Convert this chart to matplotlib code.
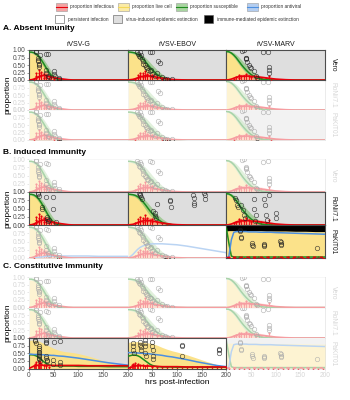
import matplotlib
matplotlib.use("Agg")
import matplotlib.pyplot as plt
from matplotlib.patches import Rectangle

plt.rcParams["font.family"] = ["Liberation Sans", "DejaVu Sans"]

# time grid (hrs post-infection) shared by all fitted curves
T = [0, 5, 10, 15, 20, 25, 30, 35, 40, 45, 50, 60, 70, 80, 90, 100, 120, 140, 160, 180, 200]

viruses = ["rVSV-G", "rVSV-EBOV", "rVSV-MARV"]
cell_lines = ["Vero", "RoNi/7.1", "PaKiT01"]
sections = ["A. Absent Imunity", "B. Induced Immunity", "C. Constitutive Immunity"]
x_ticks = [0, 50, 100, 150, 200]
y_ticks = [0, 0.25, 0.5, 0.75, 1.0]
y_ticklabels = ["0.00", "0.25", "0.50", "0.75", "1.00"]

# --- rVSV-G, no antiviral ---
g_yellow = [0.90, 0.90, 0.88, 0.83, 0.74, 0.62, 0.48, 0.34, 0.21, 0.10, 0.03, 0, 0, 0, 0, 0, 0, 0, 0, 0, 0]
g_green = [0.93, 0.93, 0.91, 0.86, 0.78, 0.67, 0.54, 0.40, 0.27, 0.16, 0.08, 0.01, 0, 0, 0, 0, 0, 0, 0, 0, 0]
g_green_lo = [0.91, 0.90, 0.86, 0.79, 0.69, 0.56, 0.42, 0.28, 0.16, 0.08, 0.03, 0, 0, 0, 0, 0, 0, 0, 0, 0, 0]
g_green_hi = [0.95, 0.95, 0.94, 0.91, 0.86, 0.78, 0.68, 0.56, 0.43, 0.31, 0.20, 0.07, 0.02, 0, 0, 0, 0, 0, 0, 0, 0]
g_red = [0, 0.01, 0.03, 0.07, 0.11, 0.14, 0.15, 0.14, 0.12, 0.10, 0.08, 0.05, 0.03, 0.01, 0, 0, 0, 0, 0, 0, 0]
g_red_hi = [0, 0.02, 0.07, 0.14, 0.21, 0.26, 0.28, 0.26, 0.22, 0.18, 0.14, 0.09, 0.05, 0.02, 0.01, 0, 0, 0, 0, 0, 0]
g_red_pt_t = [10, 15, 15, 15, 20, 20, 20, 25, 25, 30, 30, 35, 35, 40, 45, 50, 60]
g_red_pt_y = [0.04, 0.06, 0.14, 0.24, 0.10, 0.22, 0.32, 0.16, 0.28, 0.08, 0.20, 0.10, 0.17, 0.06, 0.10, 0.05, 0.03]

# --- rVSV-EBOV, no antiviral ---
e_yellow = [0.90, 0.90, 0.89, 0.87, 0.83, 0.77, 0.69, 0.60, 0.50, 0.40, 0.31, 0.16, 0.07, 0.02, 0, 0, 0, 0, 0, 0, 0]
e_green = [0.93, 0.93, 0.92, 0.90, 0.86, 0.80, 0.72, 0.63, 0.53, 0.43, 0.34, 0.18, 0.08, 0.03, 0.01, 0, 0, 0, 0, 0, 0]
e_green_lo = [0.91, 0.90, 0.88, 0.85, 0.79, 0.71, 0.61, 0.50, 0.39, 0.29, 0.21, 0.09, 0.03, 0.01, 0, 0, 0, 0, 0, 0, 0]
e_green_hi = [0.95, 0.95, 0.95, 0.94, 0.92, 0.88, 0.83, 0.76, 0.68, 0.59, 0.50, 0.33, 0.19, 0.09, 0.04, 0.02, 0, 0, 0, 0, 0]
e_red = [0, 0.01, 0.02, 0.04, 0.07, 0.10, 0.12, 0.14, 0.14, 0.13, 0.12, 0.09, 0.06, 0.04, 0.02, 0.01, 0, 0, 0, 0, 0]
e_red_hi = [0, 0.02, 0.05, 0.09, 0.14, 0.19, 0.22, 0.24, 0.24, 0.23, 0.21, 0.16, 0.11, 0.07, 0.04, 0.02, 0, 0, 0, 0, 0]
e_red_pt_t = [15, 20, 20, 25, 25, 30, 30, 35, 35, 40, 40, 45, 50, 50, 60, 70, 80]
e_red_pt_y = [0.05, 0.08, 0.18, 0.12, 0.25, 0.10, 0.22, 0.15, 0.30, 0.12, 0.20, 0.15, 0.10, 0.18, 0.08, 0.05, 0.02]

# --- rVSV-MARV, no antiviral ---
m_yellow = [0.92, 0.91, 0.87, 0.78, 0.66, 0.54, 0.43, 0.34, 0.26, 0.19, 0.13, 0.05, 0.02, 0, 0, 0, 0, 0, 0, 0, 0]
m_green = [0.95, 0.94, 0.90, 0.83, 0.74, 0.63, 0.52, 0.42, 0.33, 0.25, 0.18, 0.08, 0.03, 0.01, 0, 0, 0, 0, 0, 0, 0]
m_green_lo = [0.93, 0.91, 0.85, 0.76, 0.65, 0.53, 0.42, 0.32, 0.23, 0.16, 0.10, 0.03, 0.01, 0, 0, 0, 0, 0, 0, 0, 0]
m_green_hi = [0.97, 0.97, 0.95, 0.91, 0.85, 0.77, 0.68, 0.59, 0.50, 0.42, 0.34, 0.21, 0.11, 0.05, 0.02, 0, 0, 0, 0, 0, 0]
m_red = [0, 0.01, 0.03, 0.06, 0.09, 0.11, 0.12, 0.13, 0.13, 0.13, 0.12, 0.11, 0.09, 0.07, 0.05, 0.03, 0.01, 0, 0, 0, 0]
m_red_hi = [0, 0.02, 0.06, 0.11, 0.15, 0.18, 0.19, 0.20, 0.20, 0.20, 0.19, 0.17, 0.15, 0.12, 0.09, 0.06, 0.03, 0.01, 0, 0, 0]
m_red_pt_t = [15, 20, 25, 25, 30, 35, 40, 45, 50, 60, 70, 80, 87, 90]
m_red_pt_y = [0.05, 0.10, 0.08, 0.18, 0.15, 0.12, 0.20, 0.14, 0.10, 0.12, 0.08, 0.06, 0.15, 0.04]

# --- antiviral curves, faded induced PaKiT01 panels ---
bpg_blue = [0, 0, 0.01, 0.01, 0.02, 0.03, 0.04, 0.05, 0.05, 0.06, 0.06, 0.06, 0.06, 0.06, 0.06, 0.06, 0.06, 0.05, 0.05, 0.05, 0.05]
bpe_blue = [0, 0.04, 0.10, 0.18, 0.26, 0.32, 0.36, 0.39, 0.41, 0.42, 0.43, 0.43, 0.43, 0.42, 0.41, 0.40, 0.36, 0.31, 0.26, 0.21, 0.16]

# --- rVSV-MARV on PaKiT01, induced immunity ---
bp_yellow = [0.82, 0.83, 0.83, 0.83, 0.83, 0.83, 0.83, 0.83, 0.83, 0.83, 0.83, 0.83, 0.83, 0.82, 0.82, 0.82, 0.82, 0.81, 0.81, 0.80, 0.80]
bp_green = [0.90, 0.45, 0.06, 0.03, 0.03, 0.03, 0.03, 0.03, 0.03, 0.03, 0.03, 0.03, 0.03, 0.03, 0.03, 0.03, 0.03, 0.03, 0.03, 0.03, 0.03]
bp_blue = [0, 0.05, 0.55, 0.78, 0.80, 0.80, 0.80, 0.80, 0.80, 0.79, 0.79, 0.79, 0.78, 0.78, 0.78, 0.77, 0.76, 0.75, 0.74, 0.73, 0.72]
bp_red = [0, 0.02, 0.02, 0.02, 0.02, 0.02, 0.02, 0.02, 0.02, 0.02, 0.02, 0.02, 0.02, 0.02, 0.02, 0.02, 0.02, 0.02, 0.02, 0.02, 0.02]
bp_red_pt_t = [5, 15, 25, 35, 45, 55, 65, 75, 85, 95, 105, 115, 125, 135, 145, 155, 165, 175, 185, 195]
bp_red_pt_y = [0.02, 0.01, 0.02, 0.01, 0.02, 0.01, 0.02, 0.01, 0.02, 0.01, 0.02, 0.01, 0.02, 0.01, 0.02, 0.01, 0.02, 0.01, 0.02, 0.01]

# --- rVSV-G on PaKiT01, constitutive immunity ---
cg_yellow = [0.92, 0.93, 0.93, 0.92, 0.90, 0.86, 0.82, 0.78, 0.74, 0.70, 0.66, 0.60, 0.56, 0.54, 0.52, 0.49, 0.41, 0.31, 0.21, 0.12, 0.05]
cg_green = [0.45, 0.45, 0.44, 0.41, 0.36, 0.29, 0.22, 0.16, 0.12, 0.10, 0.09, 0.08, 0.08, 0.08, 0.08, 0.07, 0.07, 0.07, 0.06, 0.06, 0.06]
cg_blue = [0.47, 0.47, 0.46, 0.46, 0.46, 0.45, 0.45, 0.44, 0.44, 0.43, 0.43, 0.41, 0.40, 0.38, 0.36, 0.34, 0.29, 0.24, 0.19, 0.15, 0.11]
cg_red = [0, 0.04, 0.08, 0.10, 0.11, 0.11, 0.10, 0.10, 0.10, 0.10, 0.10, 0.10, 0.10, 0.10, 0.10, 0.10, 0.09, 0.09, 0.09, 0.09, 0.09]
cg_red_pt_t = [10, 12, 15, 18, 20, 20, 22, 25, 30, 35, 35, 40]
cg_red_pt_y = [0.08, 0.15, 0.22, 0.12, 0.25, 0.18, 0.20, 0.14, 0.10, 0.16, 0.08, 0.06]

# --- rVSV-EBOV on PaKiT01, constitutive immunity ---
ce_yellow = [0.85, 0.87, 0.88, 0.88, 0.88, 0.87, 0.86, 0.85, 0.84, 0.83, 0.82, 0.76, 0.69, 0.63, 0.58, 0.54, 0.45, 0.34, 0.23, 0.13, 0.06]
ce_green = [0.40, 0.42, 0.44, 0.44, 0.42, 0.38, 0.32, 0.26, 0.20, 0.14, 0.10, 0.06, 0.05, 0.05, 0.05, 0.04, 0.04, 0.04, 0.04, 0.04, 0.04]
ce_blue = [0.52, 0.52, 0.52, 0.51, 0.51, 0.50, 0.50, 0.49, 0.49, 0.48, 0.47, 0.45, 0.43, 0.40, 0.38, 0.35, 0.29, 0.22, 0.16, 0.10, 0.06]
ce_red = [0, 0.03, 0.06, 0.08, 0.09, 0.09, 0.09, 0.08, 0.08, 0.08, 0.07, 0.07, 0.06, 0.06, 0.06, 0.06, 0.05, 0.05, 0.05, 0.05, 0.05]
ce_red_pt_t = [5, 8, 10, 12, 15, 18, 20, 25, 30, 35, 40, 50, 60, 70, 80, 90, 100, 110, 120, 130, 140, 150, 160, 170, 180, 190, 200]
ce_red_pt_y = [0.05, 0.12, 0.15, 0.10, 0.18, 0.12, 0.16, 0.10, 0.12, 0.08, 0.10, 0.06, 0.05, 0.06, 0.04, 0.06, 0.05, 0.06, 0.04, 0.05, 0.06, 0.04, 0.05, 0.06, 0.04, 0.05, 0.04]

# --- observed proportions (open circles) ---
g_pts_t = [15, 15, 18, 18, 18, 20, 20, 20, 22, 35, 38, 35, 35, 38, 40, 50, 50, 52, 60, 60]
g_pts_y = [0.98, 0.93, 0.75, 0.68, 0.62, 0.55, 0.50, 0.45, 0.85, 0.88, 0.86, 0.35, 0.25, 0.15, 0.10, 0.30, 0.20, 0.12, 0.08, 0.02]
e_pts_t = [18, 20, 22, 24, 25, 26, 28, 30, 32, 35, 38, 40, 42, 45, 48, 50, 55, 60, 62, 65, 70, 75, 80, 90, 45, 50]
e_pts_y = [0.95, 0.88, 0.80, 0.92, 0.76, 0.85, 0.70, 0.65, 0.55, 0.50, 0.45, 0.40, 0.35, 0.30, 0.32, 0.20, 0.15, 0.25, 0.65, 0.58, 0.10, 0.05, 0.04, 0.02, 0.95, 0.92]
m_pts_t = [32, 35, 40, 40, 40, 42, 45, 48, 50, 55, 60, 62, 75, 85, 87, 87, 87]
m_pts_y = [0.98, 1.0, 0.75, 0.72, 0.70, 0.60, 0.50, 0.45, 0.40, 0.30, 0.12, 0.08, 0.92, 0.95, 0.42, 0.32, 0.25]
bg_pts_t = [18, 19, 20, 26, 26, 35, 36, 36, 38, 40, 49, 49, 55]
bg_pts_y = [0.97, 0.93, 0.88, 0.55, 0.48, 0.85, 0.25, 0.18, 0.12, 0.15, 0.85, 0.50, 0.08]
be_pts_t = [22, 24, 25, 26, 28, 52, 55, 56, 58, 60, 86, 86, 87, 133, 134, 134, 135, 155, 156, 156]
be_pts_y = [0.97, 0.93, 0.90, 0.86, 0.80, 0.42, 0.35, 0.28, 0.22, 0.65, 0.76, 0.72, 0.56, 0.90, 0.82, 0.66, 0.60, 0.96, 0.92, 0.80]
bmr_pts_t = [18, 20, 22, 24, 30, 34, 36, 38, 55, 55, 58, 60, 76, 78, 80, 82, 87, 100, 100]
bmr_pts_y = [0.82, 0.75, 0.62, 0.56, 0.60, 0.45, 0.30, 0.22, 0.80, 0.50, 0.12, 0.30, 0.80, 0.62, 0.30, 0.15, 0.90, 0.35, 0.20]
bp_pts_t = [28, 28, 29, 29, 52, 52, 53, 76, 76, 77, 109, 110, 110, 111, 183]
bp_pts_y = [0.86, 0.82, 0.64, 0.60, 0.46, 0.40, 0.36, 0.42, 0.38, 0.35, 0.52, 0.48, 0.42, 0.38, 0.30]
cg_pts_t = [13, 13, 14, 20, 20, 20, 20, 20, 21, 21, 21, 21, 22, 34, 34, 35, 35, 35, 36, 36, 48, 48, 50, 62, 62, 62]
cg_pts_y = [0.94, 0.90, 0.85, 0.75, 0.68, 0.60, 0.55, 0.50, 0.45, 0.40, 0.35, 0.30, 0.25, 0.92, 0.88, 0.84, 0.40, 0.33, 0.28, 0.24, 0.28, 0.15, 0.86, 0.90, 0.20, 0.10]
ce_pts_t = [10, 10, 11, 12, 25, 25, 26, 26, 35, 35, 36, 36, 37, 50, 50, 51, 51, 52, 110, 110, 111, 185, 185, 186]
ce_pts_y = [0.85, 0.75, 0.60, 0.50, 0.86, 0.76, 0.70, 0.62, 0.92, 0.85, 0.75, 0.52, 0.42, 0.86, 0.75, 0.60, 0.42, 0.30, 0.78, 0.75, 0.40, 0.65, 0.60, 0.50]

YEL, YEL_L = "#FBE28A", "#FBEBA5"
GRN, GRN_F = "#1E8C1E", "#7DBE6A"
RED, RED_F = "#E8000B", "#FF7070"
BLUE, BLUE_F = "#4C8FE0", "#B3CDF0"
BG = {"p": "white", "v": "#DEDEDE", "i": "black"}

G_A = dict(yellow=g_yellow, green=g_green, green_lo=g_green_lo, green_hi=g_green_hi,
           red=g_red, red_hi=g_red_hi, red_t=g_red_pt_t, red_y=g_red_pt_y)
E_A = dict(yellow=e_yellow, green=e_green, green_lo=e_green_lo, green_hi=e_green_hi,
           red=e_red, red_hi=e_red_hi, red_t=e_red_pt_t, red_y=e_red_pt_y)
M_A = dict(yellow=m_yellow, green=m_green, green_lo=m_green_lo, green_hi=m_green_hi,
           red=m_red, red_hi=m_red_hi, red_t=m_red_pt_t, red_y=m_red_pt_y)
G_B = dict(G_A, blue=bpg_blue)
E_B = dict(E_A, blue=bpe_blue)
M_P = dict(yellow=bp_yellow, green=bp_green, blue=bp_blue, red=bp_red,
           red_t=bp_red_pt_t, red_y=bp_red_pt_y, dashed=True)
G_C = dict(yellow=cg_yellow, green=cg_green, blue=cg_blue, red=cg_red,
           red_t=cg_red_pt_t, red_y=cg_red_pt_y)
E_C = dict(yellow=ce_yellow, green=ce_green, blue=ce_blue, red=ce_red,
           red_t=ce_red_pt_t, red_y=ce_red_pt_y)

G_P = (g_pts_t, g_pts_y)
E_P = (e_pts_t, e_pts_y)
M_Pt = (m_pts_t, m_pts_y)

# section -> row (cell line) -> column (virus): model, points, background, highlighted
layout = [
    [[(G_A, G_P, "v", True), (E_A, E_P, "v", True), (M_A, M_Pt, "v", True)],
     [(G_A, G_P, "p", False), (E_A, E_P, "p", False), (M_A, M_Pt, "p", False)],
     [(G_A, G_P, "p", False), (E_A, E_P, "p", False), (M_A, M_Pt, "v", False)]],
    [[(G_A, G_P, "p", False), (E_A, E_P, "p", False), (M_A, M_Pt, "p", False)],
     [(G_A, (bg_pts_t, bg_pts_y), "v", True), (E_A, (be_pts_t, be_pts_y), "v", True),
      (M_A, (bmr_pts_t, bmr_pts_y), "v", True)],
     [(G_B, G_P, "p", False), (E_B, E_P, "p", False), (M_P, (bp_pts_t, bp_pts_y), "i", True)]],
    [[(G_A, G_P, "p", False), (E_A, E_P, "p", False), (M_A, M_Pt, "p", False)],
     [(G_A, G_P, "p", False), (E_A, E_P, "p", False), (M_A, M_Pt, "p", False)],
     [(G_C, (cg_pts_t, cg_pts_y), "v", True), (E_C, (ce_pts_t, ce_pts_y), "p", True),
      (M_P, (bp_pts_t, bp_pts_y), "v", False)]],
]


def draw_panel(ax, m, pts, bg, hi):
    ax.set_facecolor(BG[bg])
    ax.fill_between(T, 0, m["yellow"], color=YEL, lw=0, zorder=1)
    if "green_lo" in m:
        ax.fill_between(T, m["green_lo"], m["green_hi"], color=GRN_F, alpha=0.6, lw=0, zorder=2)
    if "red_hi" in m:
        ax.fill_between(T, 0, m["red_hi"], color=RED_F, alpha=0.55, lw=0, zorder=2)
    ax.vlines(m["red_t"], 0, m["red_y"], color=RED, lw=0.6, zorder=3)
    ax.plot(m["red_t"], m["red_y"], "o", ms=1.6, mew=0, color=RED, zorder=3)
    ax.plot(T, m["green"], color=GRN, lw=1.1, zorder=4)
    if "blue" in m:
        ax.plot(T, m["blue"], color=BLUE, lw=1.1, zorder=4)
    ax.plot(T, m["red"], color=RED, lw=1.2, zorder=5,
            ls=(0, (2, 2)) if m.get("dashed") else "-")
    ax.plot(pts[0], pts[1], "o", mfc="none", mec="#222222", ms=3.2, mew=0.5,
            alpha=0.75, zorder=6)
    ax.set_xlim(0, 200)
    ax.set_ylim(0, 1)
    if not hi:
        ax.add_patch(Rectangle((0, 0), 1, 1, transform=ax.transAxes, fc="white",
                               ec="none", alpha=0.62, zorder=10))
    for sp in ax.spines.values():
        sp.set_color("#4D4D4D" if hi else "#E3E3E3")
        sp.set_linewidth(0.8 if hi else 0.5)
    ax.set_zorder(2 if hi else 1)


W, H = 350, 400
fig = plt.figure(figsize=(3.5, 4), dpi=100)

col_left = [29, 127.7, 226.4]
col_w = 98.7
row_top = [[50, 80, 110], [159, 192, 225], [277, 307.5, 338]]
row_h = [30, 33, 30.5]
title_y = [28, 152, 267]
DARK, FADE = "#4D4D4D", "#D6D6D6"

for s in range(3):
    for r in range(3):
        for c in range(3):
            model, pts, bg, hi = layout[s][r][c]
            ax = fig.add_axes([col_left[c] / W, 1 - (row_top[s][r] + row_h[s]) / H,
                               col_w / W, row_h[s] / H])
            draw_panel(ax, model, pts, bg, hi)
            tc = DARK if hi else FADE
            if c == 0:
                ax.set_yticks(y_ticks)
                ax.set_yticklabels(y_ticklabels, fontsize=4.8)
                ax.tick_params(axis="y", length=1.5, width=0.4, pad=1, colors=tc)
            else:
                ax.set_yticks([])
            if s == 2 and r == 2:
                # the "0" of the next column would sit on top of "200"
                ticks = x_ticks if c == 0 else x_ticks[1:]
                ax.set_xticks(ticks)
                ax.set_xticklabels([str(v) for v in ticks], fontsize=4.8)
                ax.tick_params(axis="x", length=1.5, width=0.4, pad=1, colors=tc)
            else:
                ax.set_xticks([])
            if c == 2:
                fig.text(333 / W, 1 - (row_top[s][r] + row_h[s] / 2) / H, cell_lines[r],
                         rotation=-90, fontsize=4.8, color="#1A1A1A" if hi else FADE,
                         ha="center", va="center")
    fig.text(3 / W, 1 - title_y[s] / H, sections[s], fontsize=6, fontweight="bold",
             ha="left", va="center")
    fig.text(8 / W, 1 - (row_top[s][1] + row_h[s] / 2) / H, "proportion", rotation=90,
             fontsize=6, ha="center", va="center")

for c in range(3):
    fig.text((col_left[c] + col_w / 2) / W, 1 - 45 / H, viruses[c], fontsize=5,
             ha="center", va="center", color="#1A1A1A")

fig.text(177 / W, 1 - 383 / H, "hrs post-infection", fontsize=6, ha="center", va="center")

# legend drawn in pixel space
lg = fig.add_axes([0, 0, 1, 1])
lg.set_xlim(0, W)
lg.set_ylim(H, 0)
lg.axis("off")
legend_top = [("proportion infectious", 56, "#F4A3A3", RED),
              ("proportion live cell", 118, YEL_L, "#F3D75A"),
              ("proportion susceptible", 176, "#A8D5A0", GRN),
              ("proportion antiviral", 247, BLUE_F, BLUE)]
for label, x0, fc, lc in legend_top:
    lg.add_patch(Rectangle((x0, 2.5), 11, 8, fc=fc, ec="#9A9A9A", lw=0.4))
    lg.plot([x0, x0 + 11], [6.5, 6.5], color=lc, lw=0.8)
    lg.text(x0 + 14, 6.5, label, fontsize=3.4, va="center", ha="left", color="#333333")
legend_bot = [("persistent infection", 55, "white"),
              ("virus-induced epidemic extinction", 113, "#DEDEDE"),
              ("immune-mediated epidemic extinction", 204, "black")]
for label, x0, fc in legend_bot:
    lg.add_patch(Rectangle((x0, 15), 9, 8, fc=fc, ec="#555555", lw=0.4))
    lg.text(x0 + 13, 19, label, fontsize=3.4, va="center", ha="left", color="#333333")

fig.savefig("out.png", dpi=100)
